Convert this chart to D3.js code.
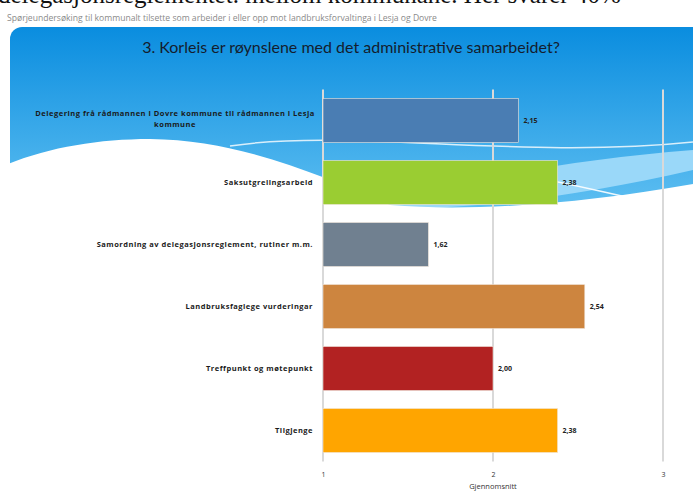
<!DOCTYPE html>
<html>
<head>
<meta charset="utf-8">
<script src="https://cdn.jsdelivr.net/npm/d3@7"></script>
<style>
  body { margin: 0; background: #fff; overflow: hidden; }
  svg { display: block; }
</style>
</head>
<body>
<div id="chart"></div>
<script>
// data
var categories = [
  "Delegering frå rådmannen i Dovre kommune til rådmannen i Lesja kommune",
  "Saksutgreiingsarbeid",
  "Samordning av delegasjonsreglement, rutiner m.m.",
  "Landbruksfaglege vurderingar",
  "Treffpunkt og møtepunkt",
  "Tilgjenge"
];
var values = [2.15, 2.38, 1.62, 2.54, 2.00, 2.38];
var barColors = ["#4a7db3", "#9acd32", "#708090", "#cd853f", "#b22222", "#ffa500"];
var xTicks = [1, 2, 3];

var W = 693, H = 492;
var margin = {top: 89.5, right: 30, bottom: 30.5, left: 323};

var svg = d3.select("#chart")
    .append("svg")
    .attr("width", W)
    .attr("height", H);

// background decoration (slide template)
var defs = svg.append("defs");
var grad = defs.append("linearGradient")
    .attr("id", "bg").attr("x1", 0).attr("y1", 0).attr("x2", 0).attr("y2", 1);
grad.append("stop").attr("offset", "0%").attr("stop-color", "#0a8ddf");
grad.append("stop").attr("offset", "100%").attr("stop-color", "#62c1f2");

// tail of the text above, cut off by the crop
svg.append("text")
    .attr("x", -2).attr("y", 3)
    .attr("font-family", "Liberation Serif, serif")
    .attr("font-size", 25)
    .attr("fill", "#111")
    .text("delegasjonsreglementet. mellom kommunane. Her svarer 40%");

svg.append("text")
    .attr("x", 7).attr("y", 21)
    .attr("font-family", "Open Sans, sans-serif")
    .attr("font-size", 8.6)
    .attr("fill", "#8a8a8a")
    .text("Spørjeundersøking  til kommunalt tilsette som arbeider i eller opp mot landbruksforvaltinga i Lesja og Dovre");

svg.append("rect")
    .attr("x", 10).attr("y", 27)
    .attr("width", 720).attr("height", 190)
    .attr("rx", 12)
    .attr("fill", "url(#bg)");

svg.append("path")
    .attr("d", "M330,206 C450,214 560,200 693,170 L693,150 C560,160 450,185 330,206 Z")
    .attr("fill", "#9ad8f9");

svg.append("path")
    .attr("d", "M8,164 C50,147 100,139 150,139 C240,140 320,175 390,205 C470,212 580,204 693,184 L693,230 L8,230 Z")
    .attr("fill", "#fff");

svg.append("path")
    .attr("d", "M230,146 C350,128 520,160 693,142")
    .attr("fill", "none").attr("stroke", "#fff").attr("stroke-width", 1.5).attr("opacity", 0.8);
svg.append("path")
    .attr("d", "M480,168 C560,180 600,192 645,201")
    .attr("fill", "none").attr("stroke", "#fff").attr("stroke-width", 1.5).attr("opacity", 0.9);

svg.append("text")
    .attr("x", 351).attr("y", 53)
    .attr("text-anchor", "middle")
    .attr("font-family", "Lato, sans-serif")
    .attr("font-size", 16)
    .attr("fill", "#141d2e")
    .text("3. Korleis er røynslene med det administrative samarbeidet?");

// chart
var width = W - margin.left - margin.right,
    height = H - margin.top - margin.bottom;

var g = svg.append("g")
    .attr("transform", "translate(" + margin.left + "," + margin.top + ")");

var x = d3.scaleLinear()
    .domain([1, 3])
    .range([0, 340]);

var y = d3.scaleBand()
    .domain(categories)
    .range([0, height])
    .paddingInner(0.29)
    .paddingOuter(0.145);

// gridlines
g.selectAll(".grid")
    .data(xTicks)
    .enter()
    .append("line")
    .attr("x1", function(d) { return x(d) })
    .attr("x2", function(d) { return x(d) })
    .attr("y1", 0)
    .attr("y2", height)
    .attr("stroke", "#d9d9d9")
    .attr("stroke-width", 2);

// x axis
var xAxis = g.append("g")
    .attr("transform", "translate(0," + (height + 5) + ")")
    .call(d3.axisBottom(x).tickValues(xTicks).tickSize(0).tickPadding(6).tickFormat(d3.format("d")));
xAxis.select(".domain").remove();
xAxis.selectAll("text")
    .attr("font-family", "Open Sans, sans-serif")
    .attr("font-size", 7)
    .attr("fill", "#333");

g.append("text")
    .attr("x", x(2))
    .attr("y", height + 27)
    .attr("text-anchor", "middle")
    .attr("font-family", "Open Sans, sans-serif")
    .attr("font-size", 7.5)
    .attr("fill", "#333")
    .text("Gjennomsnitt");

// bars
g.selectAll(".bar")
    .data(values)
    .enter()
    .append("rect")
    .attr("x", x(1))
    .attr("y", function(d, i) { return y(categories[i]) })
    .attr("width", function(d) { return x(d) - x(1) })
    .attr("height", y.bandwidth())
    .attr("fill", function(d, i) { return barColors[i] })
    .attr("stroke", "#f0e6dc")
    .attr("stroke-width", 0.6);

// value labels
var fmt = d3.format(".2f");
g.selectAll(".val")
    .data(values)
    .enter()
    .append("text")
    .attr("x", function(d) { return x(d) + 5 })
    .attr("y", function(d, i) { return y(categories[i]) + y.bandwidth() / 2 + 2.5 })
    .attr("font-family", "Open Sans, sans-serif")
    .attr("font-size", 7)
    .attr("font-weight", "bold")
    .attr("fill", "#222")
    .text(function(d) { return fmt(d).replace(".", ",") });

// category labels
var labelLines = [
  ["Delegering frå rådmannen i Dovre kommune til rådmannen i Lesja", "kommune"],
  [categories[1]], [categories[2]], [categories[3]], [categories[4]], [categories[5]]
];
g.selectAll(".cat")
    .data(labelLines)
    .enter()
    .append("text")
    .attr("font-family", "Open Sans, sans-serif")
    .attr("font-size", 7.5)
    .attr("font-weight", "bold")
    .attr("letter-spacing", 0.5)
    .attr("fill", "#1a1a1a")
    .each(function(lines, i) {
        var t = d3.select(this);
        var cy = y(categories[i]) + y.bandwidth() / 2;
        if (lines.length > 1) {
            t.attr("text-anchor", "middle");
            lines.forEach(function(l, j) {
                t.append("tspan")
                    .attr("x", -148)
                    .attr("y", cy - 5 + j * 11)
                    .text(l);
            });
        } else {
            t.attr("text-anchor", "end")
                .attr("x", -10)
                .attr("y", cy + 2.5)
                .text(lines[0]);
        }
    });
</script>
</body>
</html>
